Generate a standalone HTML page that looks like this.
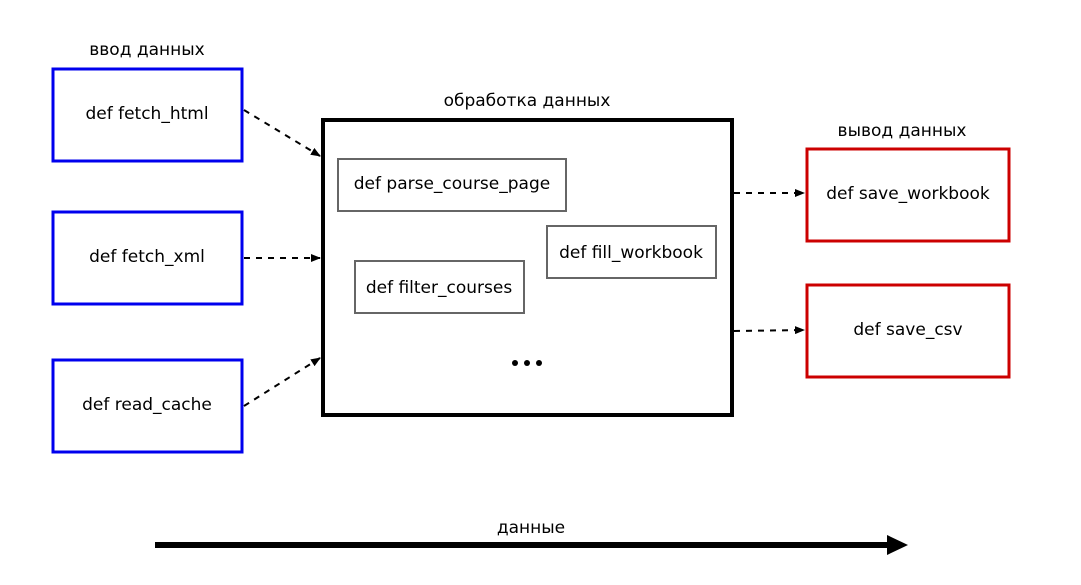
<!DOCTYPE html>
<html><head><meta charset="utf-8"><style>
html,body{margin:0;padding:0;background:#fff;}
svg{display:block;}
text{font-family:"DejaVu Sans","Liberation Sans",sans-serif;font-size:17px;fill:#000;}
</style></head><body>
<svg width="1081" height="585" viewBox="0 0 1081 585" xmlns="http://www.w3.org/2000/svg">
<defs>
<marker id="a" markerWidth="10" markerHeight="8" refX="9" refY="4" orient="auto" markerUnits="userSpaceOnUse">
<path d="M0,0 L10,4 L0,8 Z" fill="#000"/></marker>
</defs>
<text x="147" y="55" text-anchor="middle">ввод данных</text>
<rect x="53" y="69" width="189" height="92" fill="none" stroke="#0000ee" stroke-width="3"/>
<text x="147" y="119" text-anchor="middle">def fetch_html</text>
<rect x="53" y="212" width="189" height="92" fill="none" stroke="#0000ee" stroke-width="3"/>
<text x="147" y="262" text-anchor="middle">def fetch_xml</text>
<rect x="53" y="360" width="189" height="92" fill="none" stroke="#0000ee" stroke-width="3"/>
<text x="147" y="410" text-anchor="middle">def read_cache</text>

<text x="527" y="106" text-anchor="middle">обработка данных</text>
<rect x="323" y="120" width="409" height="295" fill="none" stroke="#000" stroke-width="4"/>
<rect x="338" y="159" width="228" height="52" fill="none" stroke="#666" stroke-width="2"/>
<text x="452" y="189" text-anchor="middle">def parse_course_page</text>
<rect x="547" y="226" width="169" height="52" fill="none" stroke="#666" stroke-width="2"/>
<text x="631" y="258" text-anchor="middle">def fill_workbook</text>
<rect x="355" y="261" width="169" height="52" fill="none" stroke="#666" stroke-width="2"/>
<text x="439" y="293" text-anchor="middle">def filter_courses</text>
<circle cx="515" cy="363" r="3" fill="#000"/>
<circle cx="527" cy="363" r="3" fill="#000"/>
<circle cx="539" cy="363" r="3" fill="#000"/>

<text x="902" y="136" text-anchor="middle">вывод данных</text>
<rect x="807" y="149" width="202" height="92" fill="none" stroke="#cc0000" stroke-width="3"/>
<text x="908" y="199" text-anchor="middle">def save_workbook</text>
<rect x="807" y="285" width="202" height="92" fill="none" stroke="#cc0000" stroke-width="3"/>
<text x="908" y="335" text-anchor="middle">def save_csv</text>

<g stroke="#000" stroke-width="2" stroke-dasharray="6,6" fill="none">
<line x1="244" y1="110" x2="320" y2="156" marker-end="url(#a)"/>
<line x1="244" y1="258" x2="320" y2="258" marker-end="url(#a)"/>
<line x1="244" y1="406" x2="320" y2="358" marker-end="url(#a)"/>
<line x1="734" y1="193" x2="804" y2="193" marker-end="url(#a)"/>
<line x1="734" y1="331" x2="804" y2="330" marker-end="url(#a)"/>
</g>

<text x="531" y="533" text-anchor="middle">данные</text>
<rect x="155" y="542" width="735" height="6" fill="#000"/>
<path d="M887,535 L908,545 L887,555 Z" fill="#000"/>
</svg>
</body></html>
